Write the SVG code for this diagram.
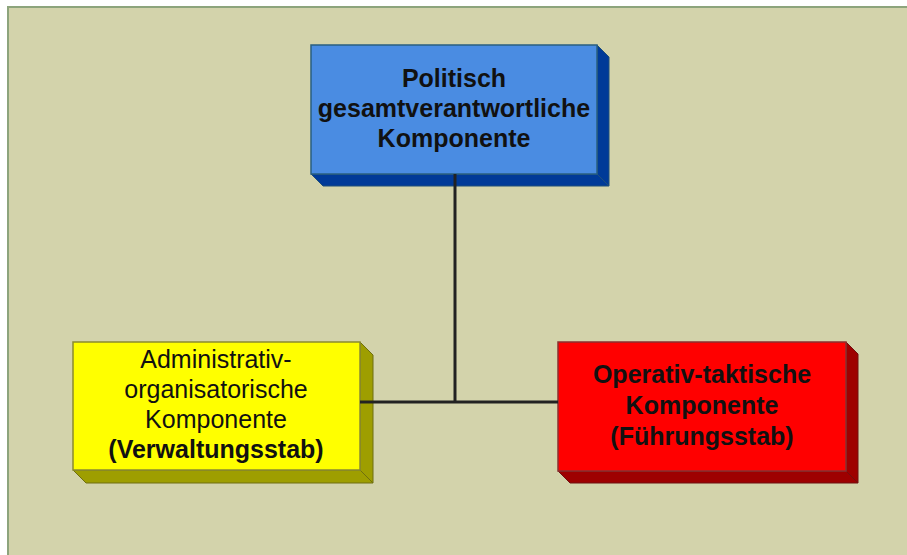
<svg xmlns="http://www.w3.org/2000/svg" width="907" height="555" viewBox="0 0 907 555">
<style>
.t{font-family:"Liberation Sans",Arial,sans-serif;font-size:25px;text-anchor:middle;fill:#111}
.b{font-weight:bold}
.conn{stroke:#222;stroke-width:3;fill:none}
</style>
<rect x="0" y="0" width="907" height="555" fill="#ffffff"/>
<rect x="8" y="7" width="905" height="555" fill="#D3D3AB" stroke="#8DA47C" stroke-width="2"/>
<g id="node-politisch">
<polygon points="597,45 609,57 609,186 597,174" fill="#003A98" stroke="#1E4F7A" stroke-width="1"/>
<polygon points="311,174 597,174 609,186 323,186" fill="#003A98" stroke="#1E4F7A" stroke-width="1"/>
<rect x="311" y="45" width="286" height="129" fill="#4A8CE2" stroke="#2A5F80" stroke-width="1.5"/>
<text class="t b" x="454" y="87">Politisch</text>
<text class="t b" x="454" y="117">gesamtverantwortliche</text>
<text class="t b" x="454" y="147">Komponente</text>
</g>
<g id="node-administrativ">
<polygon points="360,342 373,355 373,483 360,470" fill="#9E9E00" stroke="#6F6F10" stroke-width="1"/>
<polygon points="73,470 360,470 373,483 86,483" fill="#9E9E00" stroke="#6F6F10" stroke-width="1"/>
<rect x="73" y="342" width="287" height="128" fill="#FFFF00" stroke="#8A8A30" stroke-width="1.5"/>
<text class="t" x="216" y="368">Administrativ-</text>
<text class="t" x="216" y="398">organisatorische</text>
<text class="t" x="216" y="428">Komponente</text>
<text class="t b" x="216" y="458">(Verwaltungsstab)</text>
</g>
<g id="node-operativ">
<polygon points="846,342 858,354 858,483 846,471" fill="#9E0000" stroke="#6F1010" stroke-width="1"/>
<polygon points="558,471 846,471 858,483 570,483" fill="#9E0000" stroke="#6F1010" stroke-width="1"/>
<rect x="558" y="342" width="288" height="129" fill="#FF0000" stroke="#8A3030" stroke-width="1.5"/>
<text class="t b" x="702" y="383">Operativ-taktische</text>
<text class="t b" x="702" y="414">Komponente</text>
<text class="t b" x="702" y="445">(Führungsstab)</text>
</g>
<g id="connectors">
<line class="conn" x1="455" y1="174" x2="455" y2="402"/>
<line class="conn" x1="360" y1="402" x2="558" y2="402"/>
</g>
</svg>
